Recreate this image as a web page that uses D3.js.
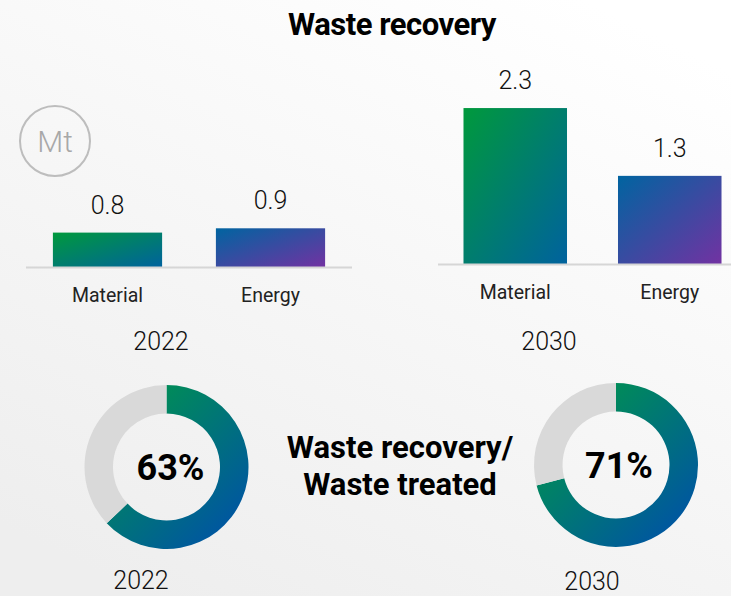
<!DOCTYPE html>
<html>
<head>
<meta charset="utf-8">
<script src="https://cdn.jsdelivr.net/npm/d3@7"></script>
<style>
  html, body { margin: 0; padding: 0; overflow: hidden; }
  svg { display: block; font-family: Roboto, "Noto Sans", sans-serif; }
</style>
</head>
<body>
<svg id="chart" width="731" height="596"></svg>
<script>
// Recovered waste, million tonnes
const categories = ["Material", "Energy"];
const years = ["2022", "2030"];
const values2022 = [0.8, 0.9];
const values2030 = [2.3, 1.3];

// Share of treated waste that is recovered, %
const ratioYears = ["2022", "2030"];
const ratioValues = [63, 71];

const title = "Waste recovery";
const unitLabel = "Mt";
const ratioTitle = ["Waste recovery/", "Waste treated"];

const W = 731, H = 596;
const svg = d3.select("#chart");
const defs = svg.append("defs");

// background wash
const bg = defs.append("linearGradient").attr("id", "bg")
  .attr("x1", "80%").attr("y1", "0%").attr("x2", "20%").attr("y2", "100%");
bg.append("stop").attr("offset", "0%").attr("stop-color", "#ffffff");
bg.append("stop").attr("offset", "100%").attr("stop-color", "#eeeeee");
svg.append("rect").attr("width", W).attr("height", H).attr("fill", "url(#bg)");

function diagGradient(id, c0, c1) {
  const g = defs.append("linearGradient").attr("id", id)
    .attr("x1", "0%").attr("y1", "0%").attr("x2", "100%").attr("y2", "100%");
  g.append("stop").attr("offset", "0%").attr("stop-color", c0);
  g.append("stop").attr("offset", "100%").attr("stop-color", c1);
}
diagGradient("gMaterial", "#00993c", "#00629e");
diagGradient("gEnergy", "#0064a0", "#7232a2");
const barFill = ["url(#gMaterial)", "url(#gEnergy)"];

// title
svg.append("text").attr("x", 392).attr("y", 35)
  .attr("text-anchor", "middle").attr("font-size", 31).attr("font-weight", 700)
  .attr("letter-spacing", -0.5).attr("fill", "#000").text(title);

// unit badge
const badge = svg.append("g").attr("transform", "translate(55,141)");
badge.append("circle").attr("r", 35).attr("fill", "none")
  .attr("stroke", "#bdbdbd").attr("stroke-width", 2);
badge.append("text").attr("y", 11).attr("text-anchor", "middle")
  .attr("font-size", 30).attr("font-weight", 300).attr("fill", "#a8a8a8").text(unitLabel);

// bar panels
const panels = [
  { year: years[0], values: values2022, x0: 26, x1: 352, base: 267, yMax: 1, top: 224, yearX: 161, yearY: 350 },
  { year: years[1], values: values2030, x0: 438, x1: 747, base: 264, yMax: 2.5, top: 94.5, yearX: 549, yearY: 350 }
];

panels.forEach(p => {
  const x = d3.scaleBand().domain(categories).range([p.x0, p.x1])
    .paddingInner(0.33).paddingOuter(0.165);
  const y = d3.scaleLinear().domain([0, p.yMax]).range([p.base, p.top]);
  const g = svg.append("g");
  const data = categories.map((c, i) => ({ c, v: p.values[i], i }));

  g.selectAll("rect.bar").data(data).join("rect").attr("class", "bar")
    .attr("x", d => x(d.c)).attr("width", x.bandwidth())
    .attr("y", d => y(d.v)).attr("height", d => y(0) - y(d.v))
    .attr("fill", d => barFill[d.i]);

  g.append("line").attr("x1", p.x0).attr("x2", p.x1)
    .attr("y1", y(0) + 0.5).attr("y2", y(0) + 0.5)
    .attr("stroke", "#d6d6d6").attr("stroke-width", 2);

  g.selectAll("text.val").data(data).join("text").attr("class", "val")
    .attr("x", d => x(d.c) + x.bandwidth() / 2).attr("y", d => y(d.v) - 19)
    .attr("text-anchor", "middle").attr("font-size", 25).attr("font-weight", 300)
    .attr("fill", "#111").text(d => d3.format(".1f")(d.v));

  g.selectAll("text.cat").data(data).join("text").attr("class", "cat")
    .attr("x", d => x(d.c) + x.bandwidth() / 2).attr("y", y(0) + 35)
    .attr("text-anchor", "middle").attr("font-size", 19.5).attr("font-weight", 400)
    .attr("fill", "#222").text(d => d.c);

  g.append("text").attr("x", p.yearX).attr("y", p.yearY)
    .attr("text-anchor", "middle").attr("font-size", 25).attr("font-weight", 300)
    .attr("fill", "#111").text(p.year);
});

// ratio donuts
const outerR = 82, innerR = 53.5;
const donuts = [
  { cx: 166.5, cy: 467, dx: 4, yearX: 141, yearY: 589 },
  { cx: 616, cy: 465, dx: 3, yearX: 592, yearY: 590 }
];
const arc = d3.arc().innerRadius(innerR).outerRadius(outerR);
const pie = d3.pie().sort(null).value(d => d);

donuts.forEach((d, i) => {
  const gid = "gDonut" + i;
  const gr = defs.append("linearGradient").attr("id", gid)
    .attr("gradientUnits", "userSpaceOnUse")
    .attr("x1", -outerR).attr("y1", -outerR).attr("x2", outerR).attr("y2", outerR);
  gr.append("stop").attr("offset", "0%").attr("stop-color", "#00a03c");
  gr.append("stop").attr("offset", "85%").attr("stop-color", "#00589e");
  gr.append("stop").attr("offset", "100%").attr("stop-color", "#00569f");

  const g = svg.append("g").attr("transform", `translate(${d.cx},${d.cy})`);
  const slices = pie([ratioValues[i], 100 - ratioValues[i]]);
  g.selectAll("path").data(slices).join("path")
    .attr("d", arc)
    .attr("fill", (s, k) => k === 0 ? `url(#${gid})` : "#d9d9d9");

  g.append("text").attr("x", d.dx).attr("y", 13).attr("text-anchor", "middle")
    .attr("font-size", 36).attr("font-weight", 700).attr("fill", "#000")
    .text(ratioValues[i] + "%");

  svg.append("text").attr("x", d.yearX).attr("y", d.yearY)
    .attr("text-anchor", "middle").attr("font-size", 25).attr("font-weight", 300)
    .attr("fill", "#111").text(ratioYears[i]);
});

// ratio caption between the donuts
svg.append("text").attr("x", 400).attr("y", 458)
  .attr("text-anchor", "middle").attr("font-size", 31).attr("font-weight", 700)
  .attr("fill", "#000")
  .selectAll("tspan").data(ratioTitle).join("tspan")
  .attr("x", 400).attr("dy", (t, k) => k === 0 ? 0 : 37).text(t => t);
</script>
</body>
</html>
